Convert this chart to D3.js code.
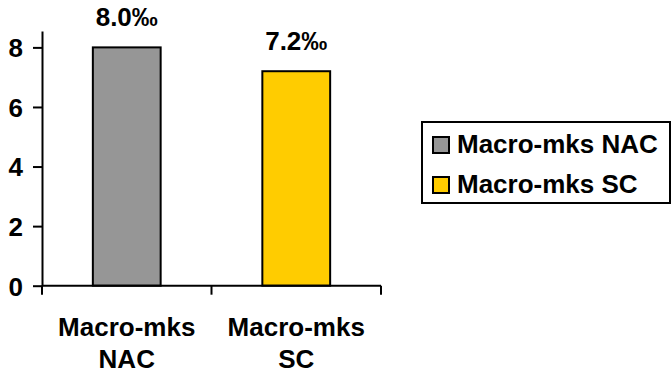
<!DOCTYPE html>
<html>
<head>
<meta charset="utf-8">
<script src="https://cdn.jsdelivr.net/npm/d3@7"></script>
<style>
  html, body { margin: 0; padding: 0; background: #fff; }
  svg { display: block; }
  text { font-family: "Liberation Sans", Arial, Helvetica, sans-serif; font-weight: bold; fill: #000; }
</style>
</head>
<body>
<svg id="chart" width="672" height="374"></svg>
<script>
// Rates of macro-mks for the two groups (per mille)
const categories = ["Macro-mks NAC", "Macro-mks SC"];
const categoryLines = [["Macro-mks", "NAC"], ["Macro-mks", "SC"]];
const values = [8.0, 7.2];
const valueLabels = ["8.0‰", "7.2‰"];
const colors = ["#969696", "#FFCC00"];
const yTicks = [0, 2, 4, 6, 8];
const yMax = 8.55;

const svg = d3.select("#chart");
const fontSize = 26;

const x = d3.scaleBand()
  .domain(categories)
  .range([42, 381])
  .paddingInner(0.6)
  .paddingOuter(0.3);

const y = d3.scaleLinear()
  .domain([0, yMax])
  .range([285.7, 31]);

// Y axis
const yAxis = svg.append("g")
  .attr("transform", "translate(42,0)")
  .call(d3.axisLeft(y).tickValues(yTicks).tickSize(9).tickSizeOuter(0).tickPadding(10).tickFormat(d3.format("d")));
yAxis.select(".domain").attr("stroke", "#000").attr("stroke-width", 2);
yAxis.selectAll(".tick line").attr("stroke", "#000").attr("stroke-width", 2);
yAxis.selectAll(".tick text")
  .attr("font-size", fontSize)
  .attr("font-family", "'Liberation Sans', Arial, sans-serif")
  .attr("font-weight", "bold")
  .attr("fill", "#000")
  .attr("dy", "0.36em");

// Bars
svg.append("g").selectAll("rect")
  .data(categories)
  .join("rect")
  .attr("x", d => x(d))
  .attr("y", (d, i) => y(values[i]))
  .attr("width", x.bandwidth())
  .attr("height", (d, i) => y(0) - y(values[i]))
  .attr("fill", (d, i) => colors[i])
  .attr("stroke", "#000")
  .attr("stroke-width", 2);

// X axis line with category boundary ticks
const [x0, x1] = x.range();
const boundaries = d3.range(categories.length + 1).map(i => x0 + i * x.step());
svg.append("line")
  .attr("x1", x0).attr("x2", x1)
  .attr("y1", y(0)).attr("y2", y(0))
  .attr("stroke", "#000").attr("stroke-width", 2);
svg.append("g").selectAll("line")
  .data(boundaries)
  .join("line")
  .attr("x1", d => d).attr("x2", d => d)
  .attr("y1", y(0)).attr("y2", y(0) + 9)
  .attr("stroke", "#000").attr("stroke-width", 2);

// Category labels (two lines each)
const catLabels = svg.append("g").selectAll("text")
  .data(categories)
  .join("text")
  .attr("text-anchor", "middle")
  .attr("font-size", fontSize)
  .attr("x", d => x(d) + x.bandwidth() / 2)
  .attr("y", 336);
catLabels.each(function(d, i) {
  const t = d3.select(this);
  categoryLines[i].forEach((line, j) => {
    t.append("tspan")
      .attr("x", x(d) + x.bandwidth() / 2)
      .attr("y", 336 + j * 32)
      .text(line);
  });
});

// Value labels above bars
svg.append("g").selectAll("text")
  .data(categories)
  .join("text")
  .attr("text-anchor", "middle")
  .attr("font-size", fontSize)
  .attr("x", d => x(d) + x.bandwidth() / 2)
  .attr("y", (d, i) => y(values[i]) - 21)
  .text((d, i) => valueLabels[i]);

// Legend
const legend = svg.append("g");
legend.append("rect")
  .attr("x", 422).attr("y", 122)
  .attr("width", 248).attr("height", 81)
  .attr("fill", "#fff")
  .attr("stroke", "#000")
  .attr("stroke-width", 2);
const items = legend.selectAll("g.item")
  .data(categories)
  .join("g")
  .attr("class", "item")
  .attr("transform", (d, i) => `translate(0,${i * 40})`);
items.append("rect")
  .attr("x", 433).attr("y", 137)
  .attr("width", 16).attr("height", 16)
  .attr("fill", (d, i) => colors[i])
  .attr("stroke", "#000")
  .attr("stroke-width", 2);
items.append("text")
  .attr("x", 457).attr("y", 153)
  .attr("font-size", fontSize)
  .text(d => d);
</script>
</body>
</html>
